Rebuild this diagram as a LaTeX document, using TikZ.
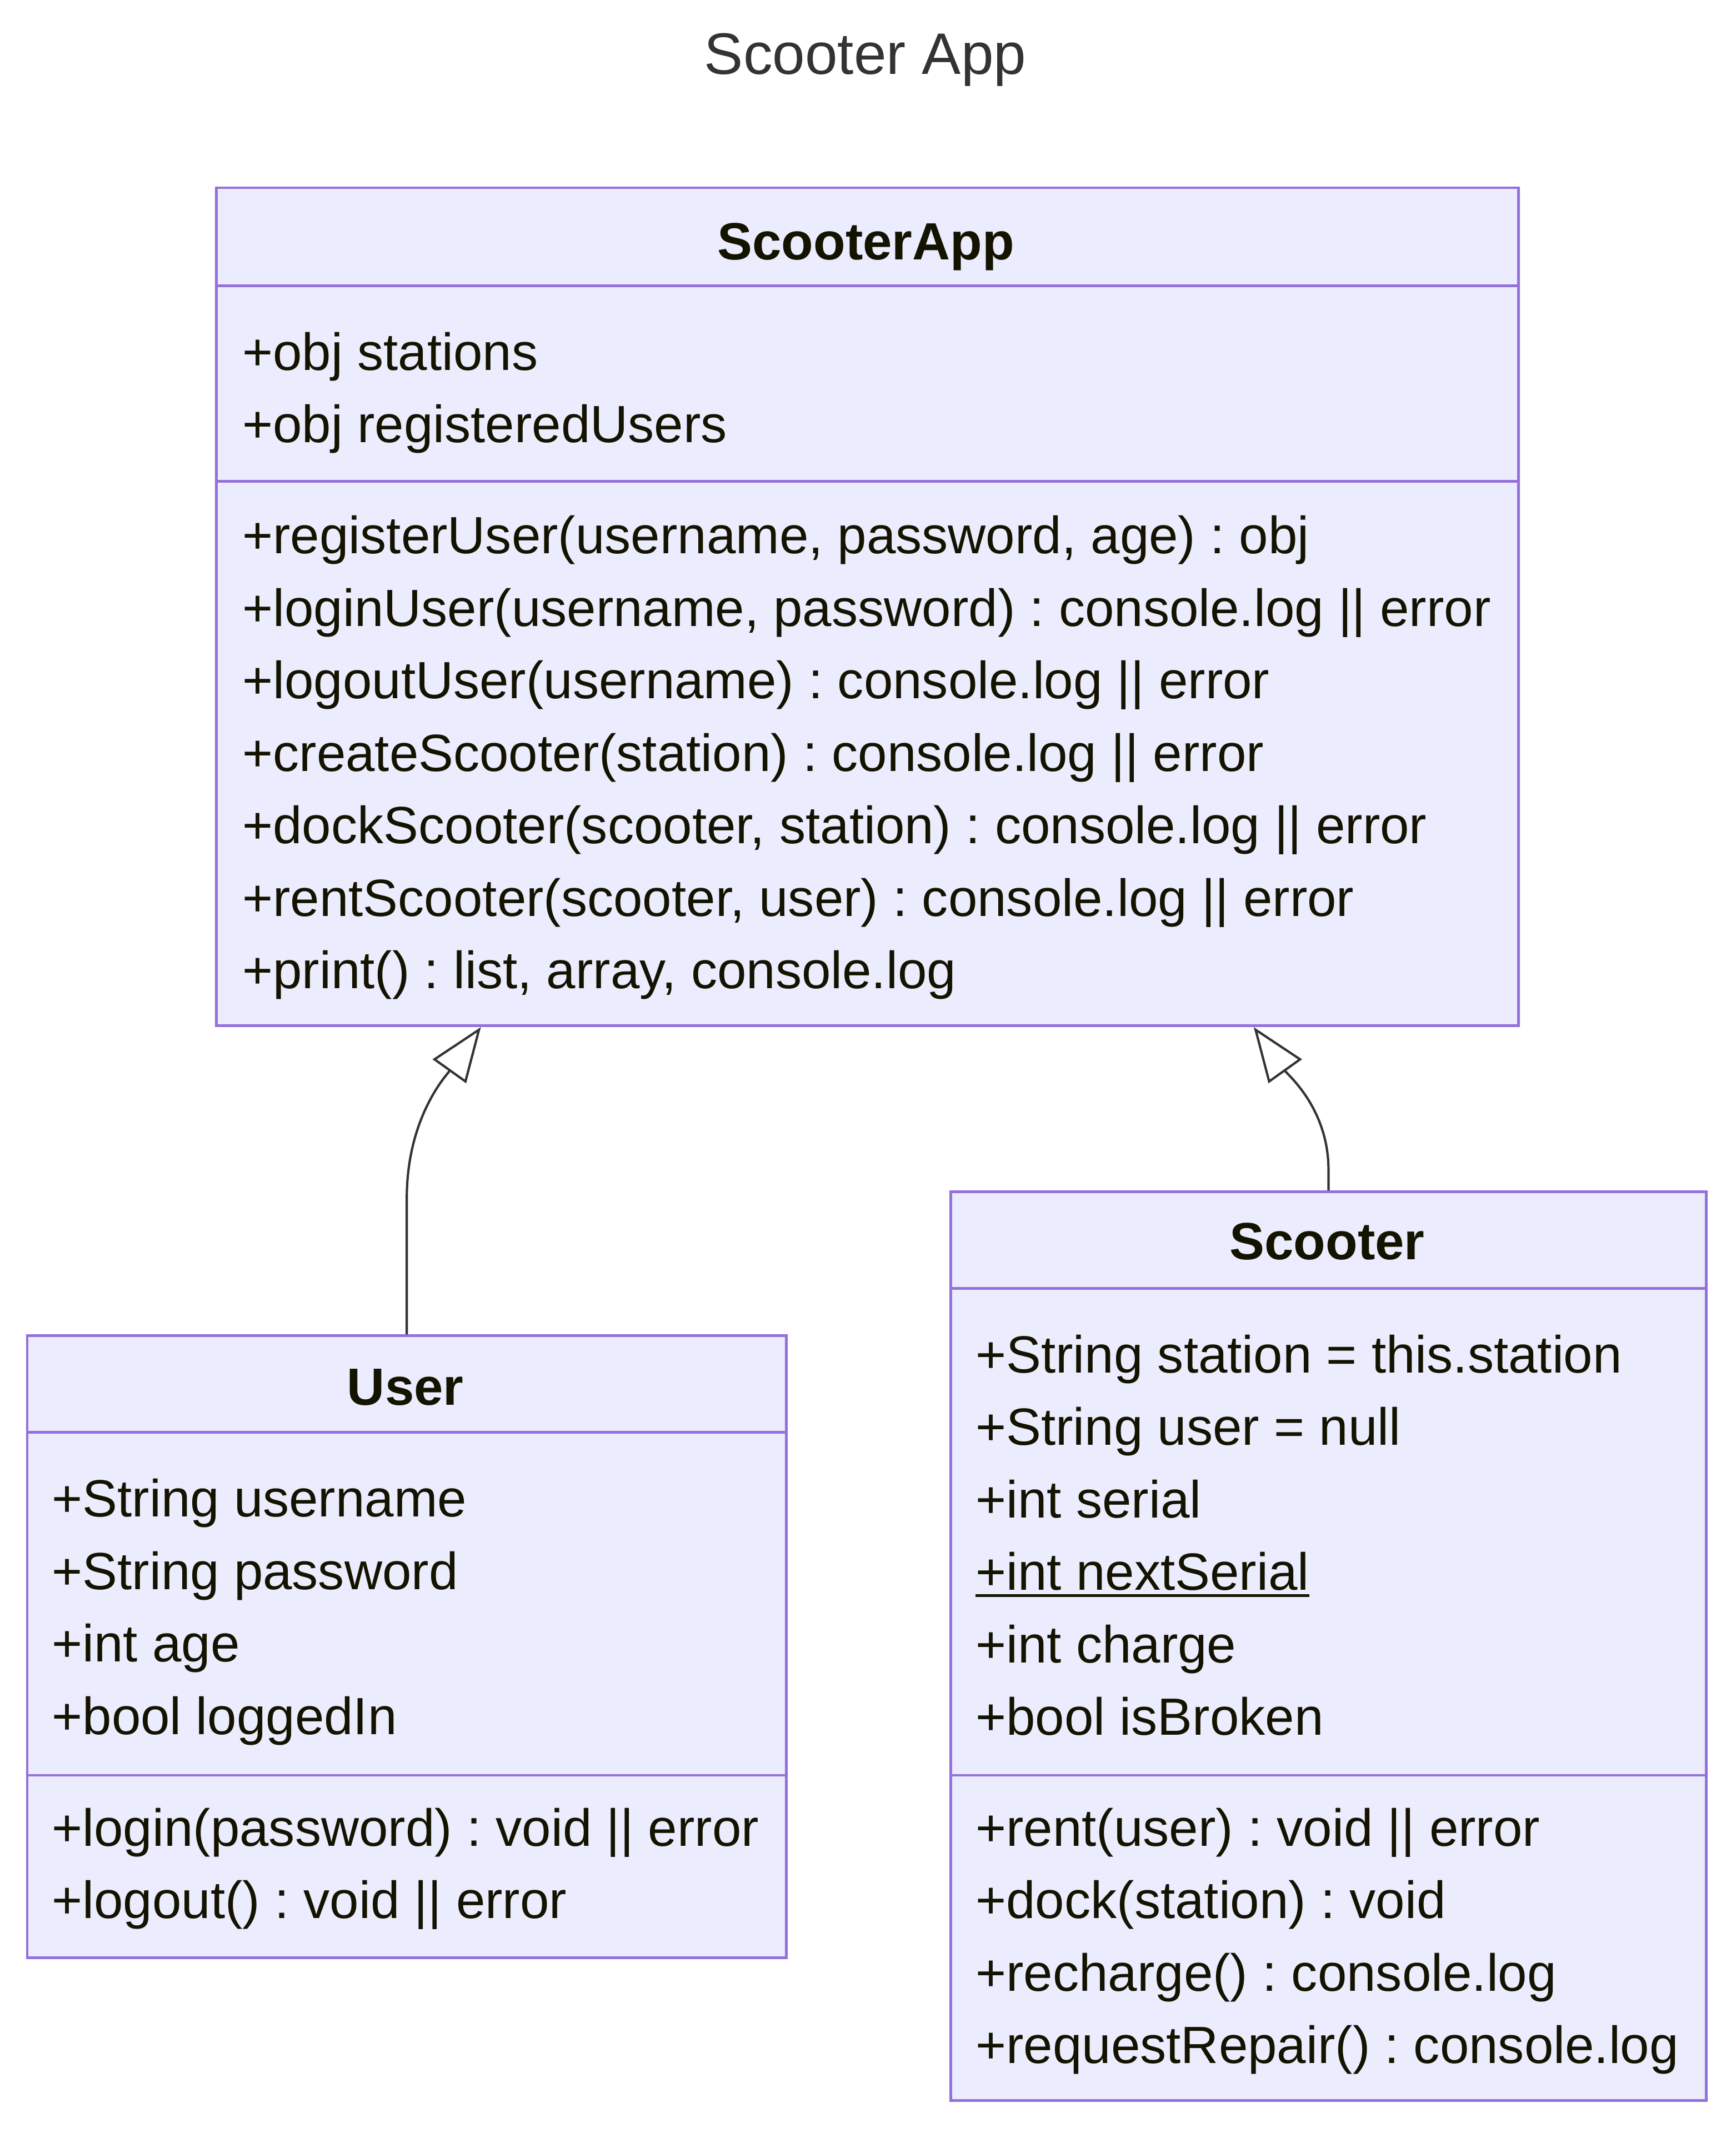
\documentclass[tikz,border=0pt]{standalone}
\usepackage{fontspec}
\setmainfont{Liberation Sans}
\usetikzlibrary{arrows.meta}
\usetikzlibrary{calc}

\definecolor{umlfill}{HTML}{ECECFF}
\definecolor{umlline}{HTML}{9370DB}
\definecolor{umltext}{HTML}{131300}
\definecolor{edgecol}{HTML}{333333}

\tikzset{
    classbox/.style={draw=umlline,fill=umlfill,line width=2pt,inner sep=0pt,anchor=north west},
    sepline/.style={draw=umlline,line width=2pt},
    member/.style={anchor=base west,inner sep=0pt,text=umltext,font=\fontsize{38.5}{46}\selectfont},
    classname/.style={anchor=base,inner sep=0pt,text=umltext,font=\fontsize{38.5}{46}\selectfont\bfseries},
    inherit/.style={draw=edgecol,line width=1.7pt,-{Triangle[open,length=40pt,width=30pt]}},
}
\frenchspacing

\begin{document}
\begin{tikzpicture}[x=1pt,y=-1pt]
        \useasboundingbox (0,0) rectangle (1276,1568);

        \node[text=edgecol,font=\fontsize{43}{50}\selectfont] (title) at (636,44) {Scooter App};

        % ScooterApp
        \node[classbox,minimum width=957pt,minimum height=616pt] (app) at (158,137) {};
        \draw[sepline] (app.west |- 0,210) -- (app.east |- 0,210);
        \draw[sepline] (app.west |- 0,354) -- (app.east |- 0,354);
        \node[classname] (app-name) at (636.5,191) {ScooterApp};
        \foreach \txt [count=\i] in {{+obj stations},{+obj registeredUsers}}
            \node[member] (app-a\i) at (178,{272+53.3*(\i-1)}) {\txt};
        \foreach \txt [count=\i] in {{+registerUser(username, password, age) : obj},
                {+loginUser(username, password) : console.log || error},
                {+logoutUser(username) : console.log || error},
                {+createScooter(station) : console.log || error},
                {+dockScooter(scooter, station) : console.log || error},
                {+rentScooter(scooter, user) : console.log || error},
                {+print() : list, array, console.log}}
            \node[member] (app-m\i) at (178,{407+53.3*(\i-1)}) {\txt};

        % User
        \node[classbox,minimum width=558pt,minimum height=457pt] (user) at (19,981) {};
        \draw[sepline] (user.west |- 0,1053) -- (user.east |- 0,1053);
        \draw[sepline] (user.west |- 0,1305) -- (user.east |- 0,1305);
        \node[classname] (user-name) at (298,1033) {User};
        \foreach \txt [count=\i] in {{+String username},{+String password},{+int age},{+bool loggedIn}}
            \node[member] (user-a\i) at (38,{1115+53.3*(\i-1)}) {\txt};
        \foreach \txt [count=\i] in {{+login(password) : void || error},{+logout() : void || error}}
            \node[member] (user-m\i) at (38,{1357+53.3*(\i-1)}) {\txt};

        % Scooter
        \node[classbox,minimum width=555pt,minimum height=668pt] (scooter) at (698,875) {};
        \draw[sepline] (scooter.west |- 0,947) -- (scooter.east |- 0,947);
        \draw[sepline] (scooter.west |- 0,1305) -- (scooter.east |- 0,1305);
        \node[classname] (scooter-name) at (975.5,926) {Scooter};
        \foreach \txt [count=\i] in {{+String station = this.station},{+String user = null},{+int serial},
                {+int nextSerial},{+int charge},{+bool isBroken}}
            \node[member] (scooter-a\i) at (717,{1009+53.3*(\i-1)}) {\txt};
        \draw[umltext,line width=1.8pt] ([yshift=-4pt]scooter-a4.base west) -- ([yshift=-4pt]scooter-a4.base east);
        \foreach \txt [count=\i] in {{+rent(user) : void || error},{+dock(station) : void},
                {+recharge() : console.log},{+requestRepair() : console.log}}
            \node[member] (scooter-m\i) at (717,{1357+53.3*(\i-1)}) {\txt};

        % inheritance
        \draw[inherit] (user.north) -- ++(0,-100) .. controls +(0,-60) and +(-25,35) .. ([xshift=-284pt]app.south);
        \draw[inherit] (scooter.north) -- ++(0,-15) .. controls +(0,-45) and +(25,35) .. ([xshift=284pt]app.south);
\end{tikzpicture}
\end{document}
